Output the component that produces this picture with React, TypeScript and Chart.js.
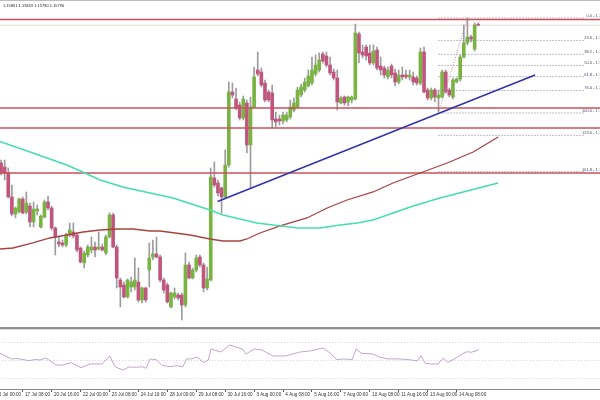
import React, { useEffect, useRef } from 'react';
import { Chart, registerables } from 'chart.js';

Chart.register(...registerables);

// ---------- data ----------
const headerText = '1.15801 1.15843 1.15780 1.15796';

const timeLabels = [
  '16 Jul 00:00', '17 Jul 08:00', '20 Jul 16:00', '22 Jul 00:00', '23 Jul 08:00', '24 Jul 16:00',
  '28 Jul 00:00', '29 Jul 08:00', '30 Jul 16:00', '3 Aug 00:00', '4 Aug 08:00', '5 Aug 16:00',
  '7 Aug 00:00', '10 Aug 08:00', '11 Aug 16:00', '13 Aug 00:00', '14 Aug 08:00',
];
const barsPerLabel = 8;
const slotCount = 169;
const firstBar = 2;

const opens = [
  1.1304, 1.1296, 1.1284, 1.1236, 1.1202, 1.1206, 1.1232, 1.1206, 1.1218, 1.1186,
  1.1208, 1.1176, 1.1196, 1.1226, 1.1214, 1.1174, 1.1146, 1.1144, 1.1140, 1.1160,
  1.1166, 1.1160, 1.1134, 1.1104, 1.1120, 1.1130, 1.1136, 1.1132, 1.1136, 1.1124,
  1.1156, 1.1200, 1.1136, 1.1070, 1.1060, 1.1036, 1.1056, 1.1056, 1.1066, 1.1030,
  1.1054, 1.1090, 1.1116, 1.1122, 1.1116, 1.1070, 1.1060, 1.1016, 1.1036, 1.1040,
  1.1040, 1.1020, 1.1100, 1.1074, 1.1090, 1.1116, 1.1100, 1.1054, 1.1070, 1.1274,
  1.1264, 1.1254, 1.1236, 1.1300, 1.1446, 1.1432, 1.1420, 1.1394, 1.1424, 1.1340,
  1.1416, 1.1490, 1.1486, 1.1464, 1.1446, 1.1444, 1.1392, 1.1392, 1.1388, 1.1390,
  1.1396, 1.1410, 1.1416, 1.1440, 1.1450, 1.1458, 1.1464, 1.1482, 1.1490, 1.1522,
  1.1518, 1.1500, 1.1486, 1.1474, 1.1424, 1.1436, 1.1426, 1.1430, 1.1432, 1.1562,
  1.1526, 1.1536, 1.1524, 1.1504, 1.1530, 1.1498, 1.1494, 1.1476, 1.1498, 1.1484,
  1.1466, 1.1480, 1.1480, 1.1476, 1.1476, 1.1474, 1.1464, 1.1526, 1.1450, 1.1434,
  1.1450, 1.1434, 1.1436, 1.1486, 1.1450, 1.1436, 1.1466, 1.1472, 1.1516, 1.1544,
  1.1556, 1.1532, 1.15801,
];
const highs = [
  1.1310, 1.1310, 1.1294, 1.1260, 1.1216, 1.1234, 1.1236, 1.1246, 1.1224, 1.1226,
  1.1220, 1.1200, 1.1230, 1.1238, 1.1218, 1.1176, 1.1156, 1.1150, 1.1164, 1.1184,
  1.1184, 1.1164, 1.1136, 1.1128, 1.1140, 1.1156, 1.1146, 1.1166, 1.1142, 1.1160,
  1.1204, 1.1204, 1.1140, 1.1074, 1.1066, 1.1072, 1.1076, 1.1114, 1.1094, 1.1056,
  1.1056, 1.1144, 1.1150, 1.1156, 1.1120, 1.1074, 1.1064, 1.1046, 1.1054, 1.1044,
  1.1044, 1.1124, 1.1106, 1.1094, 1.1120, 1.1120, 1.1104, 1.1096, 1.1294, 1.1306,
  1.1270, 1.1256, 1.1330, 1.1466, 1.1464, 1.1454, 1.1426, 1.1438, 1.1430, 1.1436,
  1.1496, 1.1526, 1.1494, 1.1470, 1.1450, 1.1460, 1.1406, 1.1400, 1.1406, 1.1406,
  1.1430, 1.1434, 1.1456, 1.1462, 1.1474, 1.1490, 1.1516, 1.1520, 1.1524, 1.1526,
  1.1526, 1.1516, 1.1492, 1.1490, 1.1438, 1.1438, 1.1438, 1.1438, 1.1582, 1.1566,
  1.1540, 1.1540, 1.1540, 1.1540, 1.1536, 1.1516, 1.1498, 1.1496, 1.1502, 1.1492,
  1.1490, 1.1496, 1.1490, 1.1490, 1.1486, 1.1478, 1.1534, 1.1536, 1.1454, 1.1454,
  1.1454, 1.1450, 1.1490, 1.1490, 1.1454, 1.1474, 1.1474, 1.1520, 1.1580, 1.1594,
  1.1560, 1.1584, 1.15843,
];
const lows = [
  1.1280, 1.1270, 1.1234, 1.1198, 1.1194, 1.1204, 1.1202, 1.1202, 1.1176, 1.1176,
  1.1200, 1.1174, 1.1194, 1.1210, 1.1170, 1.1120, 1.1136, 1.1136, 1.1136, 1.1156,
  1.1154, 1.1126, 1.1104, 1.1094, 1.1116, 1.1124, 1.1116, 1.1130, 1.1128, 1.1120,
  1.1154, 1.1134, 1.1054, 1.1016, 1.1034, 1.1034, 1.1046, 1.1050, 1.1026, 1.1024,
  1.1026, 1.1056, 1.1110, 1.1114, 1.1066, 1.1044, 1.1024, 1.1014, 1.1032, 1.1030,
  1.0990, 1.1016, 1.1072, 1.1072, 1.1086, 1.1096, 1.1046, 1.1050, 1.1068, 1.1256,
  1.1238, 1.1204, 1.1234, 1.1296, 1.1434, 1.1410, 1.1390, 1.1390, 1.1324, 1.1254,
  1.1414, 1.1478, 1.1456, 1.1426, 1.1426, 1.1374, 1.1376, 1.1380, 1.1382, 1.1386,
  1.1392, 1.1406, 1.1414, 1.1436, 1.1446, 1.1456, 1.1460, 1.1478, 1.1486, 1.1504,
  1.1496, 1.1480, 1.1470, 1.1410, 1.1422, 1.1420, 1.1418, 1.1424, 1.1430, 1.1504,
  1.1514, 1.1510, 1.1500, 1.1500, 1.1490, 1.1480, 1.1474, 1.1472, 1.1474, 1.1458,
  1.1462, 1.1470, 1.1472, 1.1470, 1.1460, 1.1460, 1.1460, 1.1444, 1.1430, 1.1430,
  1.1426, 1.1404, 1.1434, 1.1444, 1.1436, 1.1432, 1.1464, 1.1468, 1.1514, 1.1540,
  1.1546, 1.1528, 1.15780,
];
const closes = [
  1.1284, 1.1284, 1.1236, 1.1202, 1.1214, 1.1232, 1.1204, 1.1224, 1.1186, 1.1212,
  1.1212, 1.1198, 1.1226, 1.1214, 1.1174, 1.1156, 1.1142, 1.1140, 1.1160, 1.1170,
  1.1158, 1.1130, 1.1106, 1.1124, 1.1136, 1.1136, 1.1130, 1.1136, 1.1130, 1.1156,
  1.1200, 1.1136, 1.1074, 1.1056, 1.1036, 1.1070, 1.1066, 1.1070, 1.1030, 1.1054,
  1.1030, 1.1114, 1.1122, 1.1116, 1.1070, 1.1050, 1.1026, 1.1044, 1.1044, 1.1034,
  1.1020, 1.1100, 1.1074, 1.1090, 1.1114, 1.1100, 1.1054, 1.1072, 1.1276, 1.1260,
  1.1244, 1.1236, 1.1300, 1.1446, 1.1440, 1.1414, 1.1394, 1.1432, 1.1340, 1.1416,
  1.1476, 1.1482, 1.1460, 1.1430, 1.1430, 1.1390, 1.1386, 1.1388, 1.1400, 1.1400,
  1.1416, 1.1424, 1.1450, 1.1456, 1.1466, 1.1478, 1.1490, 1.1500, 1.1510, 1.1508,
  1.1500, 1.1484, 1.1474, 1.1426, 1.1434, 1.1424, 1.1436, 1.1436, 1.1564, 1.1524,
  1.1520, 1.1518, 1.1504, 1.1528, 1.1494, 1.1490, 1.1480, 1.1490, 1.1480, 1.1466,
  1.1480, 1.1476, 1.1476, 1.1480, 1.1466, 1.1464, 1.1526, 1.1446, 1.1434, 1.1450,
  1.1436, 1.1440, 1.1486, 1.1446, 1.1440, 1.1470, 1.1472, 1.1516, 1.1544, 1.1556,
  1.1552, 1.1580, 1.15796,
];

// moving averages: [bar index, price]
const maTeal: [number, number][] = [
  [-1, 1.1352], [1.7, 1.1347], [10.8, 1.1324], [20.2, 1.1300], [25.2, 1.1284], [29.4, 1.1270],
  [35.7, 1.1256], [43.2, 1.1244], [49.6, 1.1234], [59.8, 1.1210], [63.4, 1.1200],
  [68.1, 1.1192], [72.8, 1.1184], [77.2, 1.1180], [81.9, 1.1176], [83.9, 1.1174],
  [90.2, 1.1174], [95.8, 1.1180], [100.5, 1.1184], [104.9, 1.1190], [110.4, 1.1204],
  [116.0, 1.1218], [123.4, 1.1234], [130.9, 1.1248], [139.5, 1.1264],
];
const maBrown: [number, number][] = [
  [-1, 1.1132], [1.7, 1.1132], [5.3, 1.1134], [10.8, 1.1144], [15.5, 1.1154], [20.2, 1.1160],
  [24.7, 1.1166], [29.4, 1.1170], [34.1, 1.1172], [38.5, 1.1172], [43.2, 1.1168],
  [46.0, 1.1168], [54.3, 1.1160], [59.8, 1.1152], [63.4, 1.1148], [68.1, 1.1148],
  [70.0, 1.1152], [73.6, 1.1164], [79.2, 1.1178], [86.6, 1.1194], [92.2, 1.1214],
  [97.7, 1.1230], [104.9, 1.1246], [110.4, 1.1264], [117.9, 1.1284], [125.4, 1.1304],
  [132.6, 1.1326], [139.5, 1.1356],
];

// RSI: [bar index, value]
const rsiPoints: [number, number][] = [
  [-1, 58.5], [1.7, 58.0], [4.9, 51.7], [6.4, 52.2], [8.1, 51.0], [9.7, 49.8], [11.4, 51.0],
  [12.8, 50.6], [14.4, 52.8], [15.5, 49.8], [17.2, 45.0], [19.1, 45.0], [21.4, 47.6],
  [24.1, 42.0], [26.6, 46.1], [29.9, 46.1], [32.1, 55.0], [33.5, 43.1], [35.7, 39.4],
  [37.4, 42.8], [39.5, 42.4], [41.0, 43.1], [42.1, 41.3], [43.2, 51.7], [44.9, 50.9],
  [46.4, 45.0], [48.5, 43.1], [50.7, 44.2], [52.3, 43.1], [53.3, 51.7], [54.8, 51.7],
  [56.2, 53.9], [58.1, 47.6], [59.3, 50.6], [60.1, 62.8], [62.8, 59.4], [65.3, 67.2],
  [68.7, 62.8], [69.8, 57.2], [72.0, 62.8], [74.1, 61.7], [77.2, 55.0], [80.6, 55.0],
  [84.7, 59.4], [87.9, 60.9], [91.1, 63.9], [93.0, 58.3], [94.9, 50.9], [96.9, 51.7],
  [99.1, 50.9], [100.2, 62.8], [101.7, 58.0], [104.9, 57.2], [106.6, 53.9], [109.0, 51.7],
  [112.4, 51.7], [115.5, 50.6], [117.1, 49.4], [118.2, 55.3], [119.3, 46.9], [120.9, 46.1],
  [122.9, 46.1], [124.3, 52.8], [125.6, 48.0], [127.9, 52.8], [129.4, 56.9], [130.9, 59.8],
  [132.0, 59.1], [134.2, 61.7],
];
const rsiLevels = [70, 50, 30];

const redLevels = [1.1591, 1.1414, 1.1374, 1.1284];
const bidPrice = 1.15796;

const fibLowBar = 123;
const fibHighBar = 131;
const fibEndBar = 163.5;
const fibLow = 1.1404;
const fibHigh = 1.1594;
const fibLevels = [0, 23.6, 38.2, 50, 61.8, 76.4, 100, 123.6, 161.8];

const trendStart: [number, number] = [61.9, 1.1227];
const trendEnd: [number, number] = [149.7, 1.148];

// ---------- styles ----------
const BULL = '#79b443';
const BEAR = '#c0567e';
const WICK = '#9c9c9c';
const CANVAS_SHIFT = 8;
const CANVAS_W = 611;
const CANVAS_H = 400;
const lastLabelBar = (timeLabels.length - 1) * barsPerLabel;

const fibPrice = (lvl: number) => fibHigh - ((fibHigh - fibLow) * lvl) / 100;

const overlayPlugin = {
  id: 'mtOverlay',
  afterDraw(chart: any) {
    const ctx = chart.ctx as CanvasRenderingContext2D;
    const y = chart.scales.y;
    ctx.save();
    ctx.fillStyle = '#bdbdbd';
    ctx.fillRect(0, 0, chart.width, 1);
    ctx.fillStyle = '#8e8e8e';
    ctx.fillRect(0, 327, chart.width, 2);
    ctx.fillStyle = '#dcdcdc';
    ctx.fillRect(0, 329, chart.width, 1);

    ctx.font = '4px "Liberation Sans"';
    ctx.fillStyle = '#222';
    ctx.textAlign = 'left';
    ctx.textBaseline = 'middle';
    ctx.fillText(headerText, 3 + CANVAS_SHIFT, 5.5);

    ctx.fillStyle = '#4a4a6a';
    ctx.textAlign = 'right';
    ctx.textBaseline = 'bottom';
    fibLevels.forEach((lvl) => {
      const p = fibPrice(lvl);
      const py = y.getPixelForValue(p);
      ctx.fillText(`${lvl.toFixed(1)} - ${p.toFixed(5)}`, 610 + CANVAS_SHIFT, py - 0.3);
    });
    ctx.restore();
  },
};

export default function App() {
  const ref = useRef<HTMLCanvasElement | null>(null);

  useEffect(() => {
    if (!ref.current) return;
    const labels = Array.from({ length: slotCount }, (_, i) => String(i));
    const wickData: any[] = labels.map(() => null);
    const bodyData: any[] = labels.map(() => null);
    const bodyColors: string[] = labels.map(() => BULL);
    opens.forEach((o, k) => {
      const i = k + firstBar;
      wickData[i] = [lows[k], highs[k]];
      bodyData[i] = [o, closes[k]];
      bodyColors[i] = closes[k] >= o ? BULL : BEAR;
    });

    const lineBase = {
      type: 'line' as const,
      xAxisID: 'xl',
      yAxisID: 'y',
      pointRadius: 0,
      tension: 0,
      fill: false,
      order: 1,
    };

    const datasets: any[] = [
      {
        type: 'bar',
        label: 'wick',
        data: wickData,
        backgroundColor: WICK,
        barThickness: 1,
        grouped: false,
        xAxisID: 'x',
        yAxisID: 'y',
        order: 6,
      },
      {
        type: 'bar',
        label: 'body',
        data: bodyData,
        backgroundColor: bodyColors,
        barThickness: 3,
        minBarLength: 1,
        grouped: false,
        borderWidth: 0,
        xAxisID: 'x',
        yAxisID: 'y',
        order: 5,
      },
      {
        ...lineBase,
        label: 'bid',
        data: [{ x: -1, y: bidPrice }, { x: slotCount, y: bidPrice }],
        borderColor: '#e8dcdc',
        borderWidth: 1,
        order: 7,
      },
      ...redLevels.map((lv) => ({
        ...lineBase,
        label: 'level',
        data: [{ x: -1, y: lv }, { x: slotCount, y: lv }],
        borderColor: '#c9505c',
        borderWidth: 1.6,
        order: 3,
      })),
      ...fibLevels.map((lvl) => ({
        ...lineBase,
        label: 'fib',
        data: [{ x: fibLowBar, y: fibPrice(lvl) }, { x: fibEndBar, y: fibPrice(lvl) }],
        borderColor: '#7c8096',
        borderWidth: 1,
        borderDash: [1, 2],
        order: 2,
      })),
      {
        ...lineBase,
        label: 'fibTrend',
        data: [{ x: fibLowBar, y: fibLow }, { x: fibHighBar, y: fibHigh }],
        borderColor: '#c58a9a',
        borderWidth: 1,
        borderDash: [1, 1.5],
      },
      {
        ...lineBase,
        label: 'trend',
        data: [{ x: trendStart[0], y: trendStart[1] }, { x: trendEnd[0], y: trendEnd[1] }],
        borderColor: '#2f34b0',
        borderWidth: 1.6,
      },
      {
        ...lineBase,
        label: 'maTeal',
        data: maTeal.map(([x, y]) => ({ x, y })),
        borderColor: '#45ddb0',
        borderWidth: 1.5,
      },
      {
        ...lineBase,
        label: 'maBrown',
        data: maBrown.map(([x, y]) => ({ x, y })),
        borderColor: '#a8433f',
        borderWidth: 1.3,
      },
      ...rsiLevels.map((lv) => ({
        ...lineBase,
        yAxisID: 'yr',
        label: 'rsiLevel',
        data: [{ x: -1, y: lv }, { x: slotCount, y: lv }],
        borderColor: '#cfcfcf',
        borderWidth: 1,
        borderDash: [1, 2],
        order: 4,
      })),
      {
        ...lineBase,
        yAxisID: 'yr',
        label: 'rsi',
        data: rsiPoints.map(([x, y]) => ({ x, y })),
        borderColor: '#c4a3cc',
        borderWidth: 1,
      },
    ];

    const chart = new Chart(ref.current, {
      type: 'bar',
      data: { labels, datasets },
      plugins: [overlayPlugin],
      options: {
        responsive: false,
        animation: false,
        devicePixelRatio: 1,
        events: [],
        layout: { padding: { left: 0, right: 0, top: 0, bottom: 2.5 } },
        plugins: { legend: { display: false }, tooltip: { enabled: false }, title: { display: false } },
        scales: {
          x: {
            type: 'category',
            offset: true,
            grid: {
              display: true,
              offset: false,
              drawOnChartArea: false,
              drawTicks: true,
              tickLength: 2,
              color: (c: any) =>
                c.index % barsPerLabel === 0 && c.index <= lastLabelBar ? '#555' : 'rgba(0,0,0,0)',
            },
            border: { display: true, color: '#8a8a8a', width: 1 },
            ticks: {
              autoSkip: false,
              maxRotation: 0,
              minRotation: 0,
              align: 'start',
              labelOffset: 2.3,
              padding: 0,
              color: '#333',
              font: { family: 'Liberation Sans', size: 4.6 },
              callback: (_v: any, idx: number) =>
                idx % barsPerLabel === 0 ? timeLabels[idx / barsPerLabel] ?? '' : '',
            },
          },
          xl: {
            type: 'linear',
            display: false,
            offset: false,
            bounds: 'data',
            grid: { offset: false },
            min: -0.5,
            max: slotCount - 0.5,
          },
          y: { type: 'linear', display: false, min: 1.085, max: 1.163 },
          yr: { type: 'linear', display: false, min: 17.22, max: 450.56 },
        },
      },
    } as any);
    return () => chart.destroy();
  }, []);

  return (
    <div
      style={{
        position: 'fixed',
        left: 0,
        top: 0,
        width: 600,
        height: 400,
        overflow: 'hidden',
        background: '#fff',
      }}
    >
      <canvas
        ref={ref}
        width={CANVAS_W}
        height={CANVAS_H}
        style={{ position: 'absolute', left: -CANVAS_SHIFT, top: 0, width: CANVAS_W, height: CANVAS_H }}
      />
    </div>
  );
}
